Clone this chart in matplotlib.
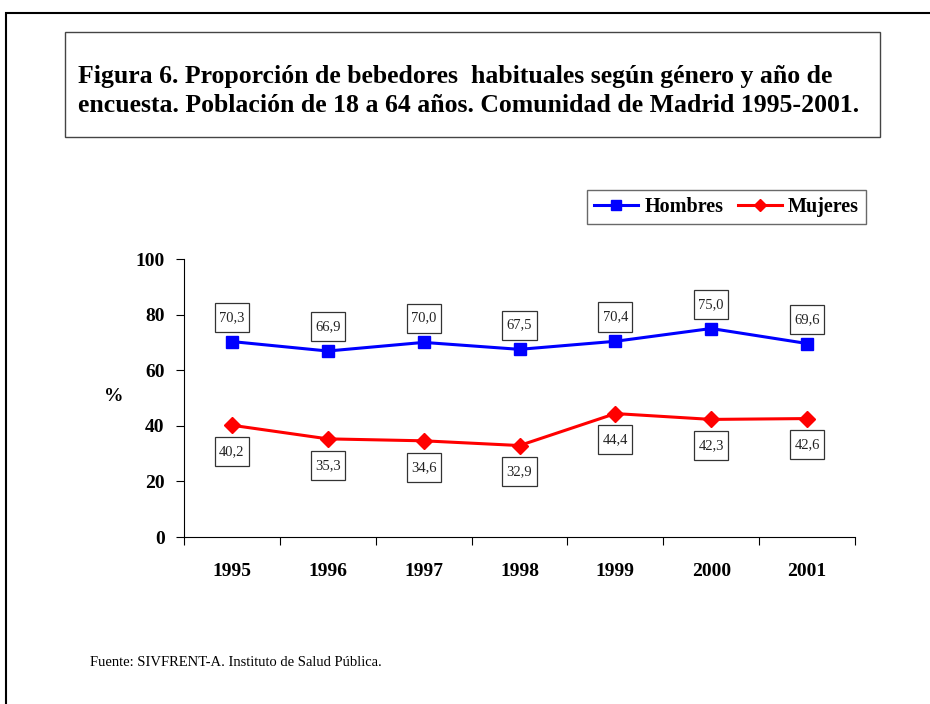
import matplotlib.pyplot as plt
from matplotlib.patches import Rectangle
from matplotlib.path import Path

years = ["1995", "1996", "1997", "1998", "1999", "2000", "2001"]
hombres = [70.3, 66.9, 70.0, 67.5, 70.4, 75.0, 69.6]
mujeres = [40.2, 35.3, 34.6, 32.9, 44.4, 42.3, 42.6]

plt.rcParams['font.family'] = ['Liberation Serif', 'DejaVu Serif']

fig = plt.figure(figsize=(9.3, 7.04), dpi=100)
W, H = 930, 704

# marco exterior
fig.add_artist(Rectangle((6 / W, -0.1), 1.2, 1 - 13 / H + 0.1, transform=fig.transFigure,
                         fill=False, edgecolor="black", linewidth=1.5))
# caja del titulo
fig.add_artist(Rectangle((65 / W, 1 - 137 / H), (880 - 65) / W, (137 - 32) / H,
                         transform=fig.transFigure, fill=False, edgecolor="#444444", linewidth=1))
fig.text(78 / W, 1 - 76 / H,
         "Figura 6. Proporción de bebedores  habituales según género y año de",
         ha="left", va="center", fontsize=18.5, fontweight="bold")
fig.text(78 / W, 1 - 105 / H,
         "encuesta. Población de 18 a 64 años. Comunidad de Madrid 1995-2001.",
         ha="left", va="center", fontsize=18.5, fontweight="bold")


# caja alta y estrecha para las etiquetas
def caja(x0, y0, width, height, mutation_size):
    px, py = 0.3 * mutation_size, 0.55 * mutation_size
    x0, y0 = x0 - px, y0 - py
    x1, y1 = x0 + width + 2 * px, y0 + height + 2 * py
    return Path([(x0, y0), (x1, y0), (x1, y1), (x0, y1), (x0, y0)], closed=True)


ax = fig.add_axes([184 / W, 1 - 537 / H, (855 - 184) / W, (537 - 259) / H])
x = range(len(years))
ax.plot(x, hombres, color="#0000ff", marker="s", markersize=9, linewidth=2.2, label="Hombres")
ax.plot(x, mujeres, color="#ff0000", marker="D", markersize=8, linewidth=2.2, label="Mujeres")

box = dict(boxstyle=caja, fc="white", ec="#333333", lw=0.9)
for i, v in enumerate(hombres):
    ax.annotate(f"{v:.1f}".replace(".", ","), (i, v), xytext=(0, 17.5), textcoords="offset points",
                ha="center", va="center", fontsize=10.5, color="#222222", bbox=box)
for i, v in enumerate(mujeres):
    ax.annotate(f"{v:.1f}".replace(".", ","), (i, v), xytext=(0, -19), textcoords="offset points",
                ha="center", va="center", fontsize=10.5, color="#222222", bbox=box)

ax.set_xlim(-0.5, len(years) - 0.5)
ax.set_ylim(0, 100)
ax.set_yticks([0, 20, 40, 60, 80, 100])
ax.set_xticks([i - 0.5 for i in range(len(years) + 1)], minor=False)
ax.set_xticklabels([])
ax.set_xticks(list(x), minor=True)
ax.set_xticklabels(years, minor=True)
ax.tick_params(axis="x", which="minor", length=0, pad=19, labelsize=14)
ax.tick_params(axis="x", which="major", direction="out", length=6)
ax.tick_params(axis="y", direction="out", length=6, labelsize=14, pad=8)
for lab in ax.get_xticklabels(minor=True) + ax.get_yticklabels():
    lab.set_fontweight("bold")
ax.spines["top"].set_visible(False)
ax.spines["right"].set_visible(False)
ax.set_ylabel("%", rotation=0, fontsize=14, fontweight="bold", va="center")
ax.yaxis.set_label_coords(-0.105, 0.505)

leg = fig.legend(loc="upper right", bbox_to_anchor=(866 / W, 1 - 190 / H), ncol=2,
                 prop=dict(size=14.5, weight="bold"), frameon=True, fancybox=False,
                 edgecolor="#444444", handlelength=2.2, columnspacing=0.7,
                 handletextpad=0.3, borderpad=0.35, borderaxespad=0, markerscale=0.8)
leg.get_frame().set_linewidth(1)

fig.text(90 / W, 1 - 662 / H, "Fuente: SIVFRENT-A. Instituto de Salud Pública.",
         fontsize=10.5, va="center")

fig.savefig("out.png", dpi=100)
